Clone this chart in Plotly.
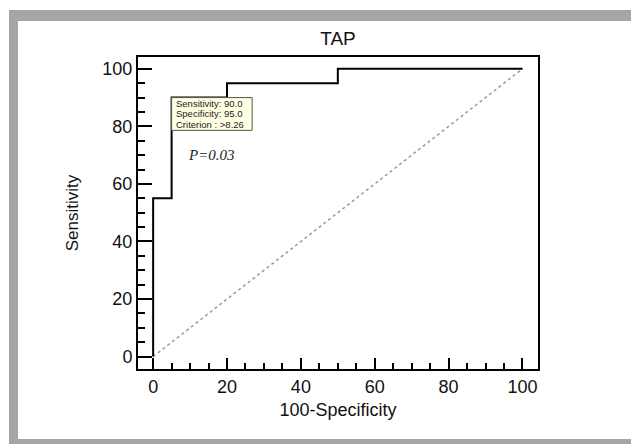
import plotly.graph_objects as go

# ---- data ----
fpr = [0, 0, 5, 5, 20, 20, 50, 50, 100]          # 100-Specificity
tpr = [0, 55, 55, 90, 90, 95, 95, 100, 100]      # Sensitivity
ref_x = [0, 100]
ref_y = [0, 100]
crit_sens = 90.0
crit_spec = 95.0
crit_label = ">8.26"
p_text = "P=0.03"
tick_vals = [0, 20, 40, 60, 80, 100]
tick_text = ["0", "20", "40", "60", "80", "100"]

W, H = 631, 444
L, R, T, B = 138, 93, 57, 75
PW, PH = W - L - R, H - T - B


def px_x(px):
    return (px - L) / PW


def px_y(py):
    return (H - B - py) / PH


fig = go.Figure()
fig.add_trace(go.Scatter(x=ref_x, y=ref_y, mode="lines",
                         line=dict(color="#9a9a9a", width=1.5, dash="3px,3px"),
                         hoverinfo="skip", showlegend=False))
fig.add_trace(go.Scatter(x=fpr, y=tpr, mode="lines",
                         line=dict(color="black", width=2, shape="linear"),
                         showlegend=False))

shapes = []
gray = "#a6a6a6"
# outer grey frame (top, left, bottom bands)
shapes.append(dict(type="rect", xref="paper", yref="paper", x0=px_x(9), x1=px_x(631),
                   y0=px_y(21), y1=px_y(10), fillcolor=gray, line=dict(width=0)))
shapes.append(dict(type="rect", xref="paper", yref="paper", x0=px_x(9), x1=px_x(18),
                   y0=px_y(444), y1=px_y(10), fillcolor=gray, line=dict(width=0)))
shapes.append(dict(type="rect", xref="paper", yref="paper", x0=px_x(9), x1=px_x(631),
                   y0=px_y(444), y1=px_y(439), fillcolor=gray, line=dict(width=0)))

# criterion tooltip box anchored at the criterion point
cx = 100 - crit_spec
cy = crit_sens
shapes.append(dict(type="rect", xref="x", yref="y", x0=cx, x1=cx + 21.8,
                   y0=cy - 11.4, y1=cy, fillcolor="#ffffe1",
                   line=dict(color="#555555", width=1)))

annotations = []
lines = [f"Sensitivity: {crit_sens:.1f}", f"Specificity: {crit_spec:.1f}",
         f"Criterion : {crit_label}"]
for i, t in enumerate(lines):
    annotations.append(dict(x=cx + 0.8, y=cy - 2.0 - i * 3.65, xref="x", yref="y",
                            text=t, showarrow=False, xanchor="left", yanchor="middle",
                            borderpad=0,
                            font=dict(family="Arial, Liberation Sans", size=9.5, color="#222")))
annotations.append(dict(x=9.0, y=70.1, xref="x", yref="y", text=f"<i>{p_text}</i>",
                        showarrow=False, xanchor="left", yanchor="middle",
                        font=dict(family="Liberation Serif, Times New Roman", size=15, color="#222")))

axis_common = dict(showline=True, linewidth=2, linecolor="black", mirror=True,
                   showgrid=False, zeroline=False, ticks="inside", tickcolor="black",
                   tickvals=tick_vals, ticktext=tick_text,
                   tickfont=dict(family="Arial, Liberation Sans", size=18, color="#111"))

fig.update_layout(
    width=W, height=H,
    margin=dict(l=L, r=R, t=T, b=B, autoexpand=False),
    paper_bgcolor="white", plot_bgcolor="white",
    title=dict(text="TAP", x=0.5, xref="paper", xanchor="center",
               y=1 - 38 / H, yref="container", yanchor="middle",
               font=dict(family="Arial, Liberation Sans", size=19, color="#111")),
    xaxis=dict(range=[-4.1, 104.2], ticklen=11, tickwidth=2,
               minor=dict(ticks="inside", dtick=5, tick0=0, ticklen=6, tickwidth=1.5,
                          tickcolor="black", showgrid=False),
               title=dict(text="100-Specificity", standoff=8,
                          font=dict(family="Arial, Liberation Sans", size=18, color="#111")),
               **axis_common),
    yaxis=dict(range=[-4.3, 104.1], ticklen=14, tickwidth=2,
               minor=dict(ticks="inside", dtick=5, tick0=0, ticklen=7, tickwidth=1.5,
                          tickcolor="black", showgrid=False),
               title=dict(text="Sensitivity", standoff=19,
                          font=dict(family="Arial, Liberation Sans", size=17, color="#111")),
               **axis_common),
    shapes=shapes,
    annotations=annotations,
    showlegend=False,
)

fig.write_html("out.html", config={"displayModeBar": False},
               post_script="document.body.style.margin='0';"
                           "document.body.style.overflow='hidden';")
